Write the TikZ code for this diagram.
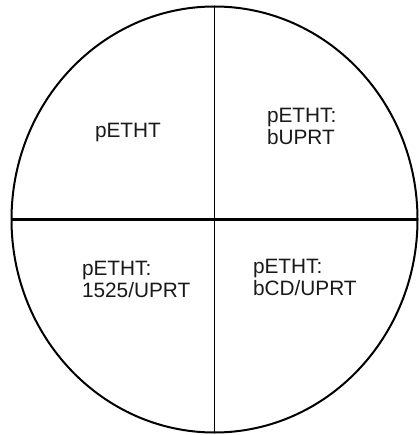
\documentclass[tikz,border=0pt]{standalone}
\usepackage{fontspec}
\setmainfont{Liberation Sans}
\usetikzlibrary{shapes.geometric}
\begin{document}
\begin{tikzpicture}[x=1pt,y=-1pt,
  lbl/.style={inner sep=0pt, outer sep=0pt, align=left, anchor=north west,
    font=\fontsize{20.8}{22}\selectfont, text=black!90},
  ring/.style={draw=black, line width=2pt, ellipse, inner sep=0pt, outer sep=0pt,
    minimum width=406pt, minimum height=426pt},
  vdivider/.style={draw=black, line width=1.7pt},
  hdivider/.style={draw=black, line width=2.4pt}]
\useasboundingbox (0,0) rectangle (419,435);
\node[ring] (c) at (214.5,219.5) {};
\draw[vdivider] (c.north) -- (c.south);
\draw[hdivider] (c.west) -- (c.east);
\node[lbl] (q1) at (95,123) {pETHT};
\node[lbl] (q2) at (267,108) {pETHT:\\bUPRT};
\node[lbl] (q3) at (82,261) {pETHT:\\1525/UPRT};
\node[lbl] (q4) at (253,259) {pETHT:\\bCD/UPRT};
\end{tikzpicture}
\end{document}
